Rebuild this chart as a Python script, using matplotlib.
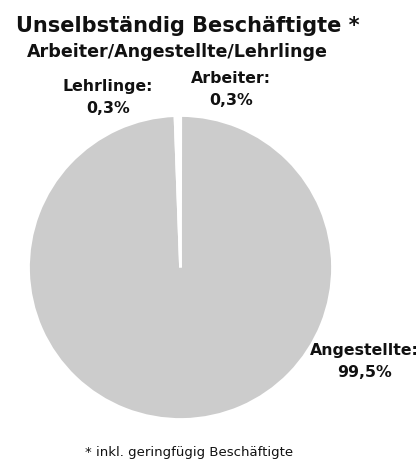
import matplotlib
matplotlib.use("Agg")
import matplotlib.pyplot as plt

W, H = 420, 461
categories = ["Arbeiter", "Angestellte", "Lehrlinge"]
values = [0.3, 99.5, 0.3]
value_labels = ["0,3%", "99,5%", "0,3%"]
colors = ["white", "#cccccc", "white"]

title = "Unselbständig Beschäftigte *"
subtitle = "Arbeiter/Angestellte/Lehrlinge"
footnote = "* inkl. geringfügig Beschäftigte"

plt.rcParams['font.family'] = ['DejaVu Sans']
fig = plt.figure(figsize=(W / 100, H / 100), dpi=100)

cx, cy, r = 180.5, 267.5, 152
ax = fig.add_axes([(cx - r) / W, (H - cy - r) / H, 2 * r / W, 2 * r / H])
ax.pie(values, colors=colors, startangle=91, counterclock=False, radius=1,
       wedgeprops=dict(edgecolor="white", linewidth=2.0))
ax.set_xlim(-1, 1)
ax.set_ylim(-1, 1)
ax.set_aspect("auto")
ax.axis("off")

def ptext(x, y, s, size, weight="bold", ha="center"):
    fig.text(x / W, 1 - y / H, s, fontsize=size, fontweight=weight,
             ha=ha, va="baseline", color="#111111")

ptext(187.5, 32, title, 15)
ptext(177.5, 57, subtitle, 12.6)

label_pos = {"Arbeiter": (231, 83), "Lehrlinge": (108, 91), "Angestellte": (364.5, 355)}
for cat, vl in zip(categories, value_labels):
    x, y = label_pos[cat]
    ptext(x, y, cat + ":", 11.3)
    ptext(x, y + 22, vl, 11.3)

ptext(189.5, 456, footnote, 9.5, weight="normal")

fig.savefig("out.png", dpi=100, facecolor="white")
